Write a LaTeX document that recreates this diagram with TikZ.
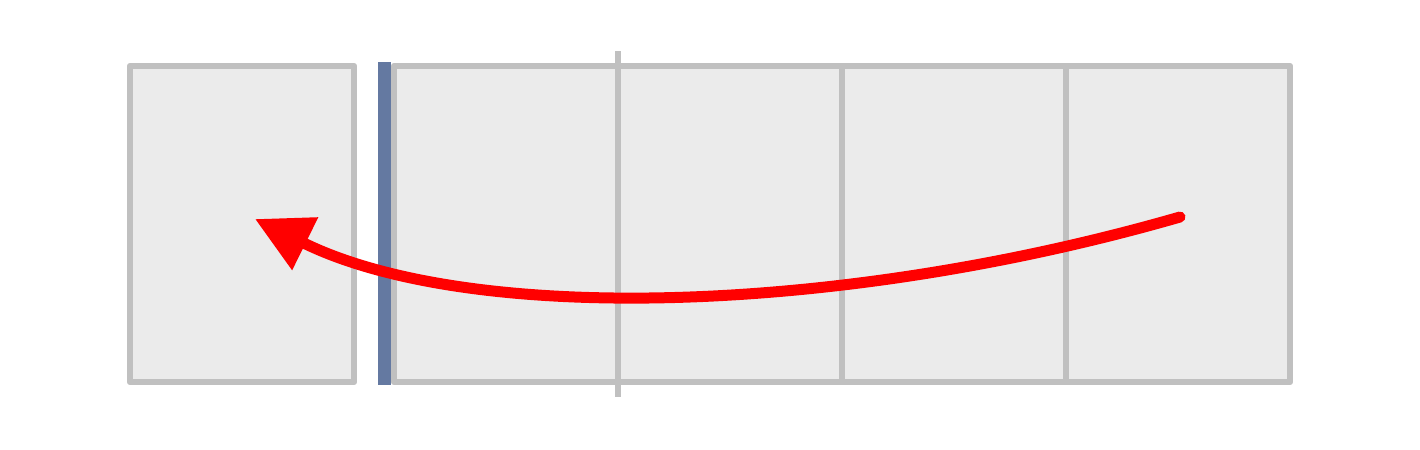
\documentclass[tikz,border=0pt]{standalone}
\usetikzlibrary{arrows.meta}
\definecolor{boxgray}{HTML}{C0C0C0}
\definecolor{boxfill}{HTML}{EBEBEB}
\definecolor{barblue}{HTML}{6479A1}
\definecolor{arrred}{HTML}{FF0000}
\tikzset{
  cellbox/.style={draw=boxgray, fill=boxfill, line width=3.2pt, line join=round},
  divider/.style={draw=boxgray, line width=3.2pt},
  movearrow/.style={draw=arrred, line width=5.5pt, line cap=round,
    -{Triangle[length=28pt,width=28pt]}}
}
\begin{document}
\begin{tikzpicture}[x=0.5pt,y=-0.5pt]
\useasboundingbox (0,0) rectangle (1420,450);
\fill[white] (0,0) rectangle (1420,450);
\draw[cellbox] (130,66) rectangle (354,382);
\draw[cellbox] (394,66) rectangle (1290,382);
\draw[divider] (618,51) -- (618,397);
\draw[divider] (842,66) -- (842,382);
\draw[divider] (1066,66) -- (1066,382);
\fill[barblue] (378,62) rectangle (391,385);
\coordinate (start) at (1180,217);
\coordinate (tip) at (255,219);
\draw[movearrow] (start) .. controls (840,315) and (470,325) .. (tip);
\end{tikzpicture}
\end{document}
